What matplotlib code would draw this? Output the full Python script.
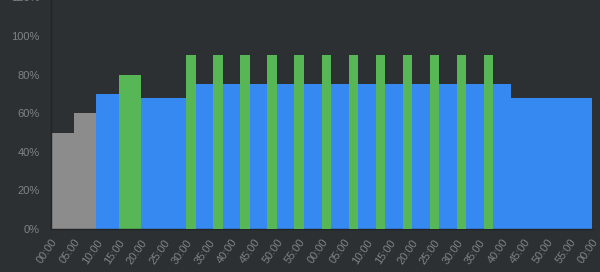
import matplotlib

matplotlib.use("Agg")
import matplotlib.pyplot as plt  # noqa: E402

BG, SPINE, TEXT = "#2d3033", "#222528", "#7f8286"
COLORS = {"idle": "#8c8c8c", "ok": "#3689f0", "peak": "#57b757"}

# base blocks: start minute, duration (min), percent, state
block_start = [0, 5, 10, 15, 20, 30, 102]
block_len = [5, 5, 5, 5, 10, 72, 18]
block_pct = [50, 60, 70, 80, 68, 75, 68]
block_state = ["idle", "idle", "ok", "peak", "ok", "ok", "ok"]

# short peaks on top of the 75% plateau
peak_start = [30, 36, 42, 48, 54, 60, 66, 72, 78, 84, 90, 96]
peak_len = 2.1
peak_pct = 90

tick_min = list(range(0, 121, 5))
tick_labels = [f"{m % 60:02d}:00" for m in tick_min]

fig = plt.figure(figsize=(6.0, 2.72), dpi=100, facecolor=BG)
ax = fig.add_axes([51 / 600, 43 / 272, 541 / 600, 231.6 / 272])
ax.set_facecolor(BG)

ax.bar(block_start, block_pct, width=block_len, align="edge",
       color=[COLORS[s] for s in block_state], lw=0, zorder=2)
ax.bar(peak_start, [peak_pct] * len(peak_start), width=peak_len, align="edge",
       color=COLORS["peak"], lw=0, zorder=3)

ax.set_xlim(0, 120)
ax.set_ylim(0, 120)
ax.set_xticks(tick_min)
ax.set_xticklabels(tick_labels, rotation=55, ha="right", va="top",
                   rotation_mode="anchor", fontsize=8, color=TEXT,
                   family="Liberation Sans")
ax.set_yticks(range(0, 121, 20))
ax.set_yticklabels([f"{v}%" for v in range(0, 121, 20)], fontsize=8,
                   color=TEXT, family="Liberation Sans")
ax.tick_params(axis="both", length=0)
ax.tick_params(axis="y", pad=8)
ax.tick_params(axis="x", pad=6)
for s in ("top", "right"):
    ax.spines[s].set_visible(False)
for s in ("left", "bottom"):
    ax.spines[s].set_color(SPINE)
    ax.spines[s].set_linewidth(1)

fig.savefig("out.png", dpi=100, facecolor=BG)
